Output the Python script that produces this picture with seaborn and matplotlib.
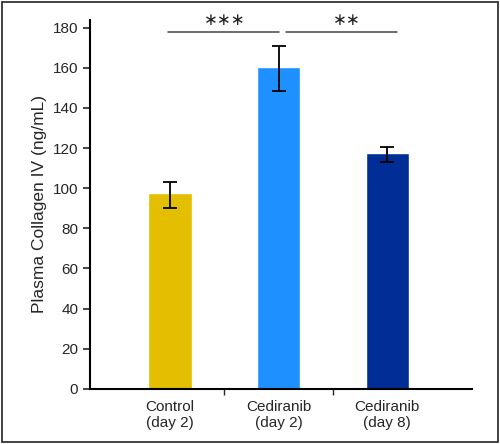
import matplotlib
matplotlib.use("Agg")
import matplotlib.pyplot as plt
from matplotlib.patches import Rectangle
import numpy as np
import pandas as pd
import seaborn as sns

# values
groups = ["Control\n(day 2)", "Cediranib\n(day 2)", "Cediranib\n(day 8)"]
collagen = [97.5, 160.3, 117.4]
err_low = [7.5, 11.8, 4.1]
err_high = [5.8, 10.6, 3.2]
colors = ["#E4BE00", "#1E90FF", "#002D96"]

# significance brackets: (start, end, label position, label)
brackets = [(-0.02, 1.0, 0.50, "\u2217\u2217\u2217"),
            (1.07, 2.09, 1.63, "\u2217\u2217")]
bracket_y = 177.8
star_y = 183.9

sns.set_theme(style="ticks")
plt.rcParams["font.family"] = ["Liberation Sans", "DejaVu Sans"]

df = pd.DataFrame({"group": groups, "value": collagen})

fig = plt.figure(figsize=(5.0, 4.44), dpi=100)
ax = fig.add_axes([0.18, 0.124, 0.764, 0.831])

sns.barplot(data=df, x="group", y="value", hue="group", palette=colors,
            width=0.4, errorbar=None, legend=False, saturation=1, ax=ax)
ax.errorbar(range(len(groups)), collagen, yerr=[err_low, err_high],
            fmt="none", ecolor="black", elinewidth=1.3, capsize=5, capthick=1.3)

# brackets
for a, b, xs, lab in brackets:
    ax.plot([a, b], [bracket_y, bracket_y], color="#444444", lw=1.1,
            clip_on=False)
    ax.text(xs, star_y, lab, ha="center", va="center", fontsize=12,
            color="#222222", family="DejaVu Sans", clip_on=False)

ax.set_xlim(-0.737, 2.78)
ax.set_ylim(0, 183.8)
ax.set_yticks(np.arange(0, 181, 20))
ax.set_xlabel("")
ax.set_ylabel("Plasma Collagen IV (ng/mL)", fontsize=12.5, labelpad=4)
ax.tick_params(axis="y", labelsize=11, length=5, width=1.2, direction="out")
ax.tick_params(axis="x", labelsize=11, length=0, pad=8)
ax.set_xticks([0.5, 1.5], minor=True)
ax.tick_params(axis="x", which="minor", length=4, width=1.0, direction="out")
sns.despine(ax=ax)
for s in ["left", "bottom"]:
    ax.spines[s].set_linewidth(1.5)
    ax.spines[s].set_color("black")

# outer frame around the figure
fig.patches.append(Rectangle((0.003, 0.004), 0.992, 0.991, transform=fig.transFigure,
                             fill=False, edgecolor="#222222", lw=1.2))

fig.savefig("out.png", dpi=100)
